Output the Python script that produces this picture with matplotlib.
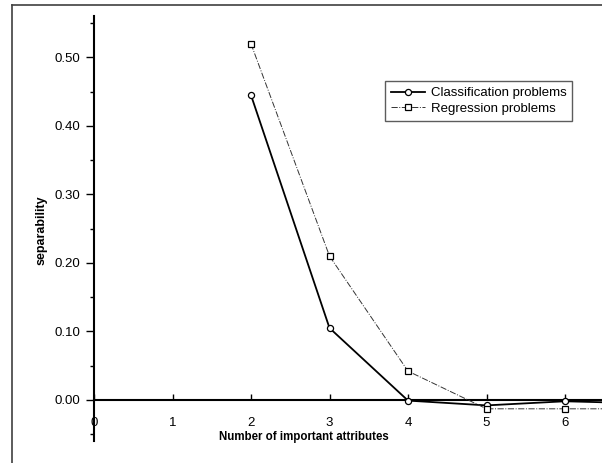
import matplotlib
matplotlib.use("Agg")
import matplotlib.pyplot as plt
from matplotlib.lines import Line2D
from matplotlib.ticker import MultipleLocator, FormatStrFormatter

plt.rcParams['font.family'] = ['Liberation Sans', 'DejaVu Sans']

attributes = [2, 3, 4, 5, 6, 7]
classification = [0.445, 0.105, -0.001, -0.008, -0.002, -0.005]
regression = [0.520, 0.210, 0.042, -0.013, -0.013, -0.013]
x_ticks = [0, 1, 2, 3, 4, 5, 6]
y_ticks = [0.0, 0.1, 0.2, 0.3, 0.4, 0.5]

W, H = 602, 463
fig = plt.figure(figsize=(W / 100, H / 100), dpi=100)
fig.patch.set_facecolor('white')

# figure border (left and top)
fig.add_artist(Line2D([11.5 / W, 11.5 / W], [0, 1 - 5 / H], color='#404040', lw=1.2,
                      transform=fig.transFigure))
fig.add_artist(Line2D([11.5 / W, 1], [1 - 5 / H, 1 - 5 / H], color='#404040', lw=1.2,
                      transform=fig.transFigure))

left = 94 / W
bottom = 1 - 441 / H
top = 1 - 15.7 / H
ax = fig.add_axes([left, bottom, 1 - left, top - bottom])

for s in ['top', 'right']:
    ax.spines[s].set_visible(False)
ax.spines['bottom'].set_position(('data', 0))
ax.spines['bottom'].set_linewidth(1.5)
ax.spines['left'].set_linewidth(1.5)

ax.plot(attributes, classification, color='black', lw=1.3, marker='o', ms=4.4,
        mfc='white', mec='black', mew=0.9, label='Classification problems', zorder=3)
ax.plot(attributes, regression, color='#333333', lw=0.7, ls='-.', marker='s', ms=4.6,
        mfc='white', mec='black', mew=0.9, label='Regression problems', zorder=3)

ax.set_xticks(x_ticks)
ax.set_xticklabels([str(v) for v in x_ticks])
ax.tick_params(axis='x', direction='in', length=4, width=1, pad=12, labelsize=9.5)
ax.set_yticks(y_ticks)
ax.yaxis.set_major_formatter(FormatStrFormatter('%.2f'))
ax.yaxis.set_minor_locator(MultipleLocator(0.05))
ax.tick_params(axis='y', which='major', direction='out', length=6, width=1, pad=4, labelsize=9.5)
ax.tick_params(axis='y', which='minor', direction='out', length=3, width=1)

ax.set_xlim(0, (W - 94) / 78.5)
ax.set_ylim(-0.06, 0.561)

fig.text(304 / W, 1 - 437 / H, 'Number of important attributes', ha='center', va='center',
         fontsize=8.3, fontweight='bold')
fig.text(42 / W, 1 - 230 / H, 'separability', ha='center', va='center', rotation=90,
         fontsize=9, fontweight='bold')

leg = ax.legend(loc='upper left', bbox_to_anchor=(385 / W, 1 - 81 / H),
                bbox_transform=fig.transFigure, fontsize=9.5, frameon=True, fancybox=False,
                handlelength=2.6, borderpad=0.45, labelspacing=0.25, handletextpad=0.4,
                borderaxespad=0)
leg.get_frame().set_edgecolor('#333333')
leg.get_frame().set_linewidth(1.0)

fig.savefig('out.png', dpi=100)
